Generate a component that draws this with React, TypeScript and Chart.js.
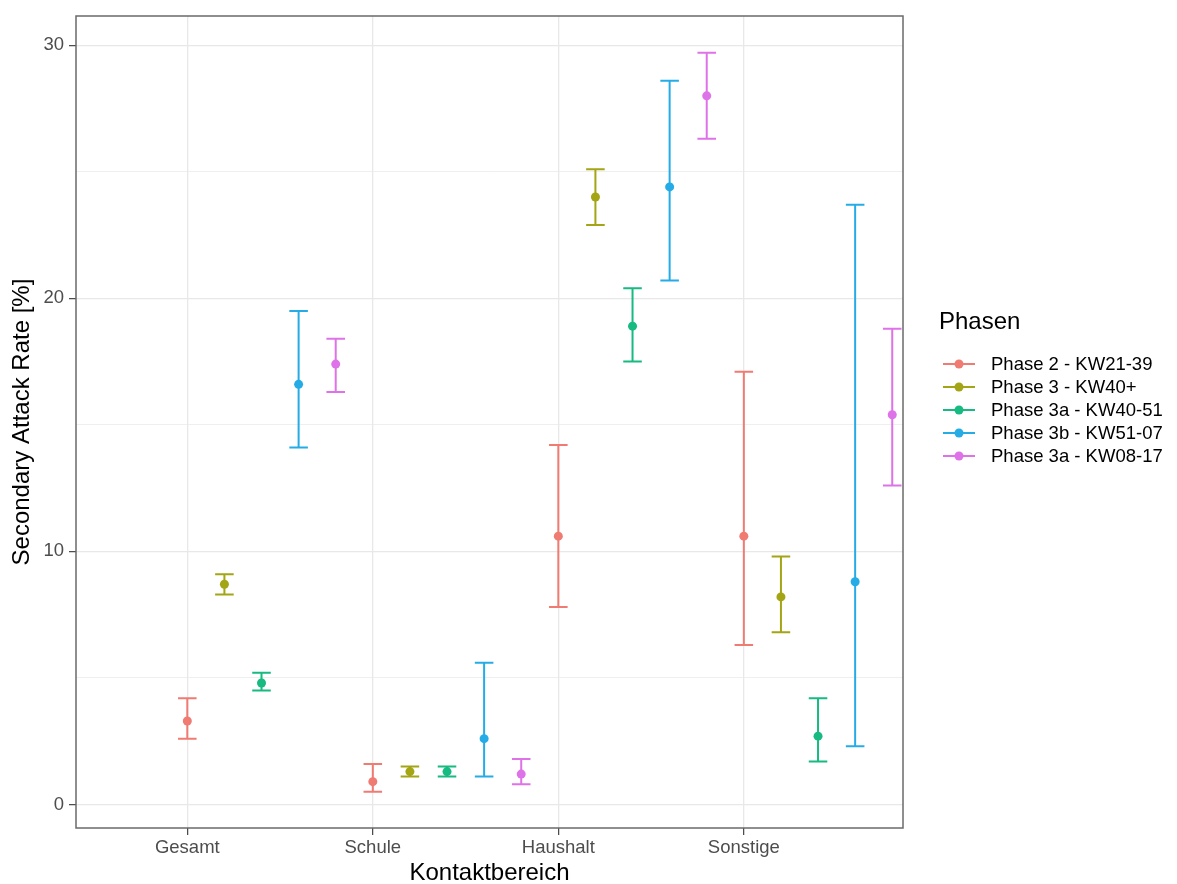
import React, { useEffect, useRef } from 'react';
import { Chart, registerables } from 'chart.js';

Chart.register(...registerables);

// ---- Data ----
const CATEGORIES = ['Gesamt', 'Schule', 'Haushalt', 'Sonstige'];
const PHASES = [
  'Phase 2 - KW21-39',
  'Phase 3 - KW40+',
  'Phase 3a - KW40-51',
  'Phase 3b - KW51-07',
  'Phase 3a - KW08-17',
];
const COLORS = ['#EF7B72', '#A3A514', '#17BA80', '#25ACE6', '#DE72E8'];

const P2_SAR = [3.3, 0.9, 10.6, 10.6];
const P2_LOW = [2.6, 0.5, 7.8, 6.3];
const P2_HIGH = [4.2, 1.6, 14.2, 17.1];

const P3_SAR = [8.7, 1.3, 24.0, 8.2];
const P3_LOW = [8.3, 1.1, 22.9, 6.8];
const P3_HIGH = [9.1, 1.5, 25.1, 9.8];

const P3A_SAR = [4.8, 1.3, 18.9, 2.7];
const P3A_LOW = [4.5, 1.1, 17.5, 1.7];
const P3A_HIGH = [5.2, 1.5, 20.4, 4.2];

const P3B_SAR = [16.6, 2.6, 24.4, 8.8];
const P3B_LOW = [14.1, 1.1, 20.7, 2.3];
const P3B_HIGH = [19.5, 5.6, 28.6, 23.7];

const P3A2_SAR = [17.4, 1.2, 28.0, 15.4];
const P3A2_LOW = [16.3, 0.8, 26.3, 12.6];
const P3A2_HIGH = [18.4, 1.8, 29.7, 18.8];

const SAR = [P2_SAR, P3_SAR, P3A_SAR, P3B_SAR, P3A2_SAR];
const LOW = [P2_LOW, P3_LOW, P3A_LOW, P3B_LOW, P3A2_LOW];
const HIGH = [P2_HIGH, P3_HIGH, P3A_HIGH, P3B_HIGH, P3A2_HIGH];

const Y_TICKS = [0, 5, 10, 15, 20, 25, 30];
const Y_LABELED = [0, 10, 20, 30];

const X_TITLE = 'Kontaktbereich';
const Y_TITLE = 'Secondary Attack Rate [%]';
const LEGEND_TITLE = 'Phasen';

// dodge step between phases and errorbar cap half-width (x units)
const DODGE = 0.2;
const CAP_HALF = 0.05;

const FONT = "'Liberation Sans', Arial, sans-serif";

const errorBarPlugin = {
  id: 'errorBars',
  beforeDatasetsDraw(chart: any) {
    const { ctx, chartArea, scales } = chart;
    const x = scales.x;
    const y = scales.y;
    ctx.save();
    ctx.beginPath();
    ctx.rect(chartArea.left, chartArea.top, chartArea.right - chartArea.left, chartArea.bottom - chartArea.top);
    ctx.clip();
    chart.data.datasets.forEach((ds: any) => {
      ctx.strokeStyle = ds.backgroundColor;
      ctx.lineWidth = 2;
      ds.data.forEach((pt: any) => {
        const xc = x.getPixelForValue(pt.x);
        const xl = x.getPixelForValue(pt.x - CAP_HALF);
        const xr = x.getPixelForValue(pt.x + CAP_HALF);
        const yl = y.getPixelForValue(pt.lo);
        const yh = y.getPixelForValue(pt.hi);
        ctx.beginPath();
        ctx.moveTo(xc, yl);
        ctx.lineTo(xc, yh);
        ctx.moveTo(xl, yl);
        ctx.lineTo(xr, yl);
        ctx.moveTo(xl, yh);
        ctx.lineTo(xr, yh);
        ctx.stroke();
      });
    });
    ctx.restore();
  },
};

const panelLegendPlugin = {
  id: 'panelLegend',
  afterDraw(chart: any) {
    const { ctx, chartArea } = chart;
    ctx.save();
    // panel border
    ctx.strokeStyle = '#6A6A6A';
    ctx.lineWidth = 1.5;
    ctx.strokeRect(
      Math.round(chartArea.left),
      Math.round(chartArea.top),
      Math.round(chartArea.right - chartArea.left),
      Math.round(chartArea.bottom - chartArea.top)
    );
    // legend
    const lx = chartArea.right + 36;
    const titleY = 322;
    ctx.fillStyle = '#000000';
    ctx.font = `24px ${FONT}`;
    ctx.textBaseline = 'middle';
    ctx.textAlign = 'left';
    ctx.fillText(LEGEND_TITLE, lx, titleY);
    chart.data.datasets.forEach((ds: any, i: number) => {
      const cy = 364 + i * 23;
      ctx.strokeStyle = ds.backgroundColor;
      ctx.lineWidth = 2;
      ctx.beginPath();
      ctx.moveTo(lx + 4, cy);
      ctx.lineTo(lx + 36, cy);
      ctx.stroke();
      ctx.fillStyle = ds.backgroundColor;
      ctx.beginPath();
      ctx.arc(lx + 20, cy, 4.5, 0, Math.PI * 2);
      ctx.fill();
      ctx.fillStyle = '#000000';
      ctx.font = `18.5px ${FONT}`;
      ctx.fillText(ds.label, lx + 52, cy + 1);
    });
    ctx.restore();
  },
};

export default function App() {
  const canvasRef = useRef<HTMLCanvasElement | null>(null);

  useEffect(() => {
    const canvas = canvasRef.current;
    if (!canvas) return;
    const datasets = PHASES.map((label, p) => ({
      label,
      backgroundColor: COLORS[p],
      borderColor: COLORS[p],
      pointRadius: 4.5,
      pointBorderWidth: 0,
      pointHoverRadius: 4.5,
      showLine: false,
      data: CATEGORIES.map((_, c) => ({
        x: c + 1 + p * DODGE,
        y: SAR[p][c],
        lo: LOW[p][c],
        hi: HIGH[p][c],
      })),
    }));

    const chart = new Chart(canvas, {
      type: 'scatter',
      data: { datasets },
      plugins: [errorBarPlugin, panelLegendPlugin],
      options: {
        animation: false,
        responsive: false,
        devicePixelRatio: 1,
        layout: { padding: { top: 15, right: 274, bottom: 0, left: 0 } },
        plugins: {
          legend: { display: false },
          tooltip: { enabled: false },
          title: { display: false },
        },
        scales: {
          x: {
            type: 'linear',
            min: 0.4,
            max: 4.858,
            afterBuildTicks: (scale: any) => {
              scale.ticks = CATEGORIES.map((_, i) => ({ value: i + 1 }));
            },
            afterFit: (scale: any) => {
              scale.height = 56;
            },
            border: { display: false },
            grid: {
              color: '#E8E8E8',
              lineWidth: 1.3,
              drawTicks: true,
              tickLength: 7,
              tickColor: '#444444',
              tickWidth: 1.2,
            },
            ticks: {
              autoSkip: false,
              maxRotation: 0,
              padding: 2,
              color: '#4D4D4D',
              font: { family: FONT, size: 18.5 },
              callback: (value: any) => CATEGORIES[Math.round(Number(value)) - 1] ?? '',
            },
            title: {
              display: true,
              text: X_TITLE,
              color: '#000000',
              font: { family: FONT, size: 24, lineHeight: 0.85 },
              padding: { top: 0, bottom: 0 },
            },
          },
          y: {
            type: 'linear',
            min: -0.93,
            max: 31.15,
            afterBuildTicks: (scale: any) => {
              scale.ticks = Y_TICKS.map((v) => ({ value: v }));
            },
            afterFit: (scale: any) => {
              scale.width = 76;
            },
            border: { display: false },
            grid: {
              color: '#E8E8E8',
              lineWidth: (ctx: any) => (Y_LABELED.includes(ctx.tick?.value) ? 1.3 : 0.7),
              drawTicks: true,
              tickLength: 7,
              tickColor: (ctx: any) => (Y_LABELED.includes(ctx.tick?.value) ? '#444444' : 'rgba(0,0,0,0)'),
              tickWidth: 1.2,
            },
            ticks: {
              autoSkip: false,
              padding: 5,
              color: '#4D4D4D',
              font: { family: FONT, size: 18.5 },
              callback: (value: any) => (Y_LABELED.includes(Number(value)) ? String(value) : ''),
            },
            title: {
              display: true,
              text: Y_TITLE,
              color: '#000000',
              font: { family: FONT, size: 24, lineHeight: 1.2 },
              padding: { top: 8, bottom: 0 },
            },
          },
        },
      } as any,
    });

    return () => {
      chart.destroy();
    };
  }, []);

  return (
    <div style={{ position: 'absolute', left: 0, top: 0, width: 1177, height: 884, background: '#FFFFFF' }}>
      <canvas ref={canvasRef} width={1177} height={884} style={{ display: 'block' }} />
    </div>
  );
}
